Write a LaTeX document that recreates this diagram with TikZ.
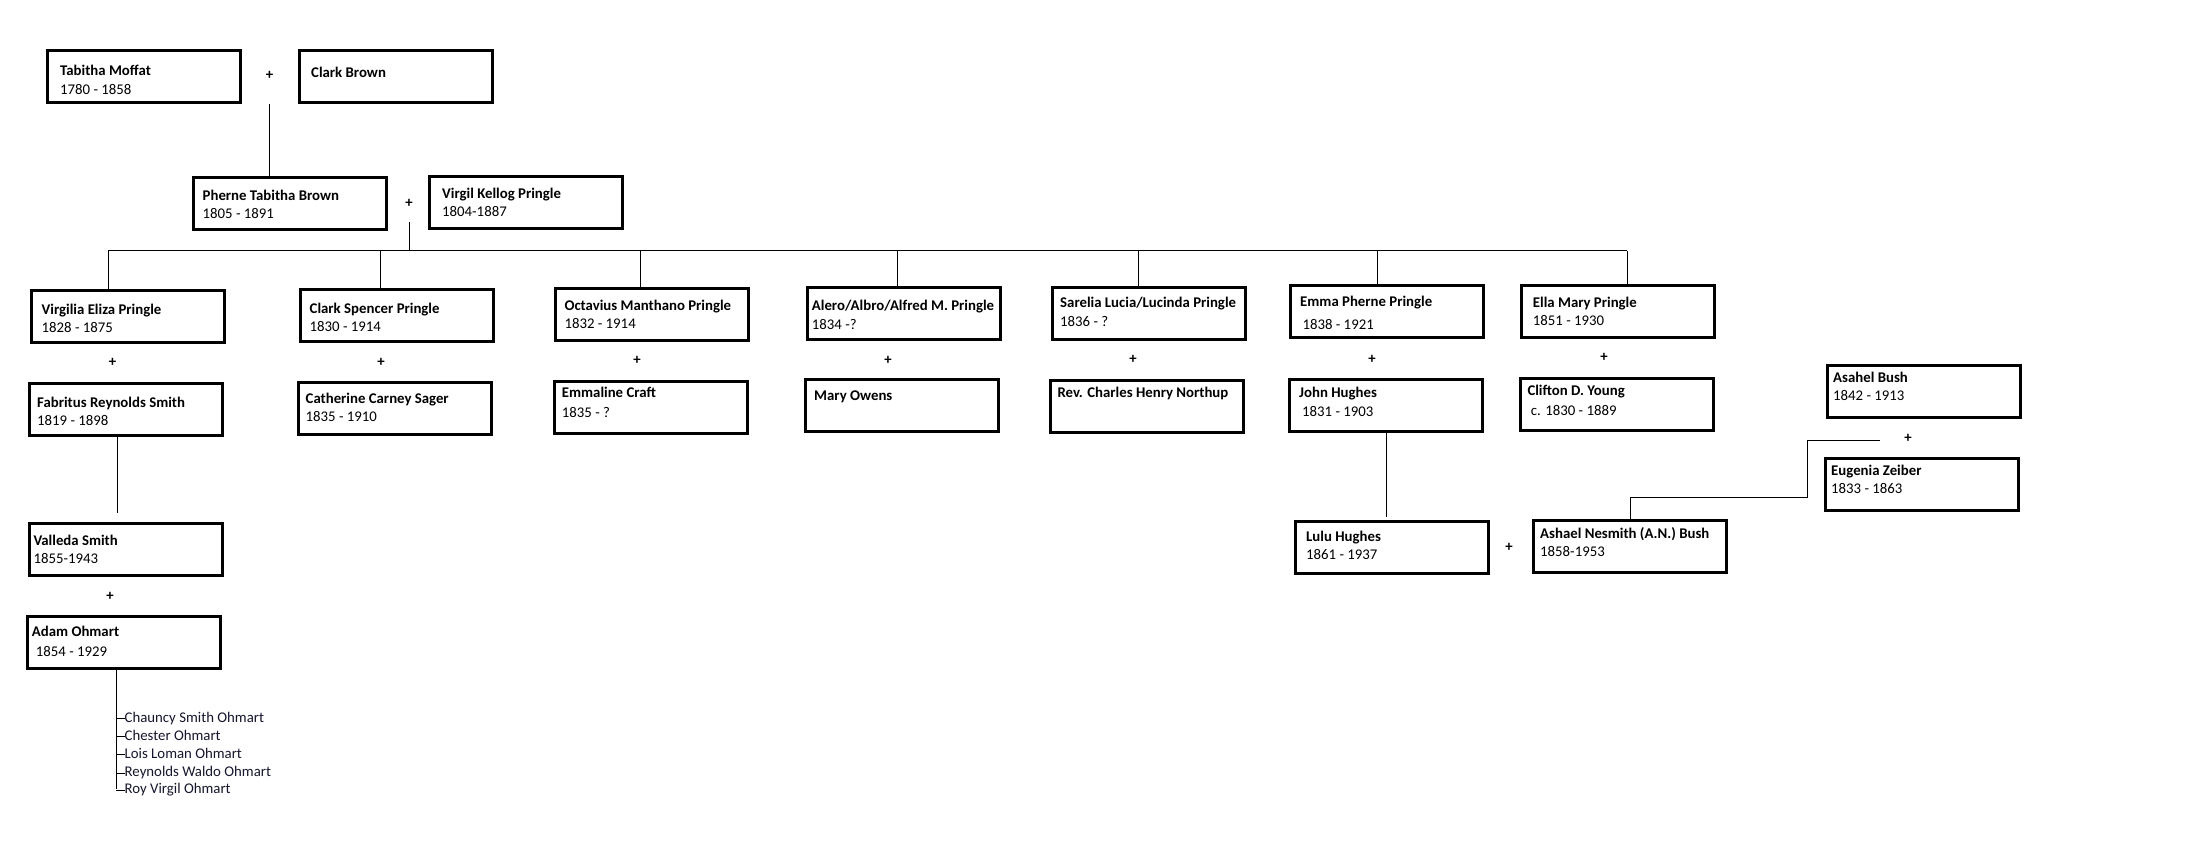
\documentclass[tikz,border=0pt]{standalone}
\usepackage{fontspec}
\setmainfont{Carlito}
\usetikzlibrary{calc}
\definecolor{kidtext}{HTML}{16162E}
\begin{document}
\begin{tikzpicture}[x=1pt,y=1pt,
  font=\fontsize{14.8}{17.6}\selectfont,
  pbox/.style={draw, line width=3pt, anchor=north west, inner sep=0pt, minimum width=193pt, minimum height=52pt},
  nm/.style={anchor=west, inner sep=0pt, yshift=-2pt, font=\fontsize{14.8}{17.6}\selectfont\bfseries, text height=.64em, text depth=0pt},
  dt/.style={anchor=west, inner sep=0pt, yshift=-2pt, text height=.64em, text depth=0pt},
  plussign/.style={inner sep=0pt, font=\fontsize{14.8}{17.6}\selectfont\bfseries},
  conn/.style={line width=1pt},
  kid/.style={anchor=west, inner sep=0pt, yshift=-1.5pt, text=kidtext, text height=.64em, text depth=0pt}]
\useasboundingbox (0,0) rectangle (2211,-858);
\fill[white] (0,0) rectangle (2211,-858);

% generation 1
\node[pbox] (tabitha) at (46,-49) {};
\node[nm] (tabitha-n) at (60,-70.7) {Tabitha Moffat};
\node[dt] (tabitha-d) at (60,-89) {1780 - 1858};
\node[plussign] (p1) at (269.5,-75) {+};
\node[pbox] (clarkb) at (298,-49) {};
\node[nm] (clarkb-n) at (311,-72.7) {Clark Brown};

% generation 2
\node[pbox] (pherne) at (192,-176) {};
\node[nm] (pherne-n) at (202.5,-195.7) {Pherne Tabitha Brown};
\node[dt] (pherne-d) at (202.5,-213) {1805 - 1891};
\node[plussign] (p2) at (409,-203) {+};
\node[pbox] (virgil) at (428,-175) {};
\node[nm] (virgil-n) at (442,-193.7) {Virgil Kellog Pringle};
\node[dt] (virgil-d) at (442,-211.7) {1804-1887};

% generation 3 - children
\node[pbox] (virgilia) at (30,-289) {};
\node[nm] (virgilia-n) at (41.5,-309.3) {Virgilia Eliza Pringle};
\node[dt] (virgilia-d) at (41.5,-327.7) {1828 - 1875};
\node[plussign] (p3) at (112.5,-362) {+};
\node[pbox] (fabritus) at (28,-382) {};
\node[nm] (fabritus-n) at (37,-402.3) {Fabritus Reynolds Smith};
\node[dt] (fabritus-d) at (37,-420.7) {1819 - 1898};

\node[pbox] (clarks) at (299,-288) {};
\node[nm] (clarks-n) at (309.5,-308.3) {Clark Spencer Pringle};
\node[dt] (clarks-d) at (309.5,-326.7) {1830 - 1914};
\node[plussign] (p4) at (381,-362) {+};
\node[pbox] (catherine) at (297,-381) {};
\node[nm] (catherine-n) at (305.5,-398.7) {Catherine Carney Sager};
\node[dt] (catherine-d) at (305.5,-416.7) {1835 - 1910};

\node[pbox] (octavius) at (554,-287) {};
\node[nm] (octavius-n) at (564.3,-305.3) {Octavius Manthano Pringle};
\node[dt] (octavius-d) at (564.3,-323.3) {1832 - 1914};
\node[plussign] (p5) at (637,-360) {+};
\node[pbox] (emmaline) at (553,-380) {};
\node[nm] (emmaline-n) at (561.7,-392.3) {Emmaline Craft};
\node[dt] (emmaline-d) at (561.7,-412.7) {1835 - ?};

\node[pbox] (alero) at (806,-286) {};
\node[nm] (alero-n) at (811.7,-305.3) {Alero/Albro/Alfred M. Pringle};
\node[dt] (alero-d) at (811.7,-324) {1834 -?};
\node[plussign] (p6) at (888,-360) {+};
\node[pbox] (mary) at (804,-378) {};
\node[nm] (mary-n) at (814,-395.3) {Mary Owens};

\node[pbox] (sarelia) at (1051,-286) {};
\node[nm] (sarelia-n) at (1060,-302.3) {Sarelia Lucia/Lucinda Pringle};
\node[dt] (sarelia-d) at (1060,-321) {1836 - ?};
\node[plussign] (p7) at (1133,-359) {+};
\node[pbox] (revch) at (1049,-379) {};
\node[nm] (revch-n) at (1057.3,-392.7) {Rev. Charles Henry Northup};

\node[pbox] (emma) at (1289,-284) {};
\node[nm] (emma-n) at (1300,-301.7) {Emma Pherne Pringle};
\node[dt] (emma-d) at (1302.3,-324.3) {1838 - 1921};
\node[plussign] (p8) at (1372,-359) {+};
\node[pbox] (johnh) at (1288,-378) {};
\node[nm] (johnh-n) at (1299,-392.3) {John Hughes};
\node[dt] (johnh-d) at (1302,-411.7) {1831 - 1903};

\node[pbox] (ella) at (1520,-284) {};
\node[nm] (ella-n) at (1532.7,-302.7) {Ella Mary Pringle};
\node[dt] (ella-d) at (1532.7,-320.7) {1851 - 1930};
\node[plussign] (p9) at (1604,-357) {+};
\node[pbox] (clifton) at (1519,-377) {};
\node[nm] (clifton-n) at (1527.3,-390.7) {Clifton D. Young};
\node[dt] (clifton-d) at (1530.7,-410) {c. 1830 - 1889};

% Bush family
\node[pbox] (asahel) at (1826,-364) {};
\node[nm] (asahel-n) at (1833,-377.3) {Asahel Bush};
\node[dt] (asahel-d) at (1833,-395.7) {1842 - 1913};
\node[plussign] (p10) at (1908,-438) {+};
\node[pbox] (eugenia) at (1824,-457) {};
\node[nm] (eugenia-n) at (1831,-470.7) {Eugenia Zeiber};
\node[dt] (eugenia-d) at (1831,-488.3) {1833 - 1863};

% generation 4
\node[pbox] (lulu) at (1294,-520) {};
\node[nm] (lulu-n) at (1306,-536.7) {Lulu Hughes};
\node[dt] (lulu-d) at (1306,-554.3) {1861 - 1937};
\node[plussign] (p11) at (1509,-547) {+};
\node[pbox] (ashael) at (1532,-519) {};
\node[nm] (ashael-n) at (1540,-533.3) {Ashael Nesmith (A.N.) Bush};
\node[dt] (ashael-d) at (1540,-551.7) {1858-1953};

\node[pbox] (valleda) at (28,-522) {};
\node[nm] (valleda-n) at (33.3,-540.3) {Valleda Smith};
\node[dt] (valleda-d) at (33.3,-558.7) {1855-1943};
\node[plussign] (p12) at (110,-596) {+};
\node[pbox] (adam) at (26,-615) {};
\node[nm] (adam-n) at (31.7,-631.7) {Adam Ohmart};
\node[dt] (adam-d) at (35.7,-651.7) {1854 - 1929};

% children of Adam Ohmart
\node[kid] (k1) at (124.5,-717.3) {Chauncy Smith Ohmart};
\node[kid] (k2) at (124.5,-735.3) {Chester Ohmart};
\node[kid] (k3) at (124.5,-753.3) {Lois Loman Ohmart};
\node[kid] (k4) at (124.5,-771.5) {Reynolds Waldo Ohmart};
\node[kid] (k5) at (124.5,-789) {Roy Virgil Ohmart};

% connectors
\coordinate (tv) at (269.5,-176);
\draw[conn] (tv |- tabitha.south) -- (tv |- pherne.north);

\coordinate (pv) at (409,-222);
\coordinate (barL) at (108,-251);
\coordinate (barR) at (1627,-251);
\draw[conn] (pv) -- (pv |- barL);
\draw[conn] (barL) -- (barR);
\coordinate (d1) at (108,-251);
\coordinate (d2) at (380,-251);
\coordinate (d3) at (640,-251);
\coordinate (d4) at (897,-251);
\coordinate (d5) at (1138,-251);
\coordinate (d6) at (1377,-251);
\coordinate (d7) at (1627,-251);
\draw[conn] (d1) -- (d1 |- virgilia.north);
\draw[conn] (d2) -- (d2 |- clarks.north);
\draw[conn] (d3) -- (d3 |- octavius.north);
\draw[conn] (d4) -- (d4 |- alero.north);
\draw[conn] (d5) -- (d5 |- sarelia.north);
\draw[conn] (d6) -- (d6 |- emma.north);
\draw[conn] (d7) -- (d7 |- ella.north);

\coordinate (fs) at (117,-513);
\draw[conn] (fs |- fabritus.south) -- (fs);

\coordinate (jh) at (1386,-517);
\draw[conn] (jh |- johnh.south) -- (jh);

\coordinate (bz) at (1880,-440);
\coordinate (bk) at (1807,-497);
\draw[conn] (bz) -| (bk) -| (ashael.north);

\coordinate (ak) at (116,-789);
\draw[conn] (ak |- adam.south) -- (ak);
\foreach \k in {k1,k2,k3,k4,k5}
  \draw[conn] (\k.west -| ak) -- (\k.west);
\end{tikzpicture}
\end{document}
